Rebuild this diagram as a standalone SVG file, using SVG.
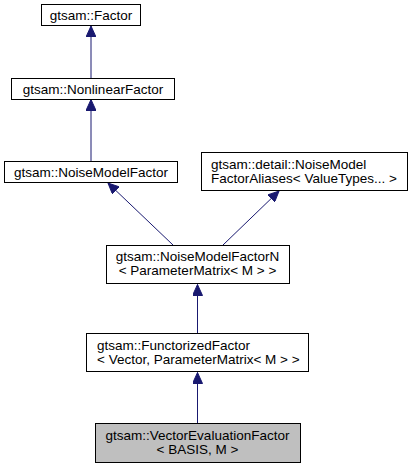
<svg xmlns="http://www.w3.org/2000/svg" width="413" height="469" viewBox="0 0 413 469">
<style>
.box{fill:#ffffff;stroke:#000000;stroke-width:1}
.cur{fill:#bfbfbf;stroke:#000000;stroke-width:1}
text{font-family:"Liberation Sans",Arial,Helvetica,sans-serif;font-size:13.5px;fill:#000000}
.c{text-anchor:middle}
.edge{stroke:#191970;stroke-width:1;fill:none}
</style>
<defs>
<marker id="ah" viewBox="0 0 12 10" refX="11" refY="5" markerWidth="12" markerHeight="10" markerUnits="userSpaceOnUse" orient="auto">
<path d="M0,0 L11,5 L0,10 Z" fill="#191970" stroke="#191970"/>
</marker>
</defs>
<rect width="413" height="469" fill="#ffffff"/>
<g id="connectors">
<line class="edge" x1="91" y1="79" x2="91" y2="26" marker-end="url(#ah)"/>
<line class="edge" x1="91" y1="162" x2="91" y2="99.5" marker-end="url(#ah)"/>
<line class="edge" x1="173" y1="245" x2="108" y2="183" marker-end="url(#ah)"/>
<line class="edge" x1="223" y1="245" x2="279" y2="191" marker-end="url(#ah)"/>
<line class="edge" x1="197.5" y1="333" x2="197.5" y2="284.5" marker-end="url(#ah)"/>
<line class="edge" x1="197.5" y1="423" x2="197.5" y2="372.5" marker-end="url(#ah)"/>
</g>
<g id="node-factor">
<rect class="box" x="41.5" y="4.5" width="99" height="21"/>
<text class="c" x="91" y="20">gtsam::Factor</text>
</g>
<g id="node-nonlinearfactor">
<rect class="box" x="11.5" y="78.5" width="163" height="21"/>
<text class="c" x="93" y="94">gtsam::NonlinearFactor</text>
</g>
<g id="node-noisemodelfactor">
<rect class="box" x="4.5" y="161.5" width="173" height="21"/>
<text class="c" x="91" y="177">gtsam::NoiseModelFactor</text>
</g>
<g id="node-aliases">
<rect class="box" x="201.5" y="152.5" width="206" height="38"/>
<text x="211" y="169">gtsam::detail::NoiseModel</text>
<text x="211" y="183">FactorAliases&lt; ValueTypes... &gt;</text>
</g>
<g id="node-noisemodelfactorn">
<rect class="box" x="106.5" y="245.5" width="183" height="38"/>
<text class="c" x="197.5" y="261">gtsam::NoiseModelFactorN</text>
<text class="c" x="197.5" y="275">&lt; ParameterMatrix&lt; M &gt; &gt;</text>
</g>
<g id="node-functorizedfactor">
<rect class="box" x="86.5" y="333.5" width="222" height="38"/>
<text x="97" y="350">gtsam::FunctorizedFactor</text>
<text x="97" y="364">&lt; Vector, ParameterMatrix&lt; M &gt; &gt;</text>
</g>
<g id="node-vectorevaluationfactor">
<rect class="cur" x="95.5" y="423.5" width="205" height="39"/>
<text class="c" x="197.5" y="440">gtsam::VectorEvaluationFactor</text>
<text class="c" x="197.5" y="454">&lt; BASIS, M &gt;</text>
</g>
</svg>
